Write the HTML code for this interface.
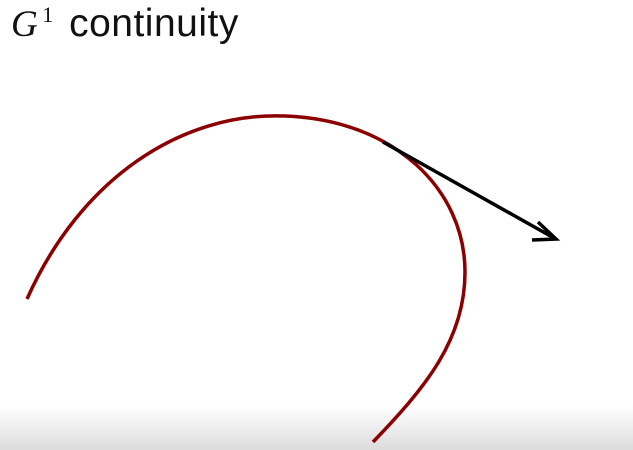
<!DOCTYPE html>
<html><head><style>
html,body{margin:0;padding:0}
body{width:633px;height:450px;position:relative;overflow:hidden;background:linear-gradient(to bottom,#fff 0,#fff 405px,#dcdcdc 450px)}
.t{position:absolute;left:11px;top:2px;font-family:"Liberation Sans",sans-serif;font-size:39px;color:#111;white-space:nowrap;letter-spacing:0.5px}
.g{font-family:"Liberation Serif",serif;font-style:italic;font-size:37px}
sup{font-family:"Liberation Serif",serif;font-size:22px;vertical-align:14px;margin-left:4px;margin-right:4px}
</style></head><body>
<div class="t"><span class="g">G</span><sup>1</sup> continuity</div>
<svg width="633" height="450" style="position:absolute;left:0;top:0">
<path d="M27,299 C80,180 180,112 285,116 C395,120 465,190 465,272 C465,340 425,388 373,442" fill="none" stroke="#8b0000" stroke-width="3.5"/>
<line x1="383" y1="142" x2="554" y2="238" stroke="#000" stroke-width="3.5"/>
<polyline points="538,222 556,239 532,240" fill="none" stroke="#000" stroke-width="3.5"/>
</svg>
</body></html>
